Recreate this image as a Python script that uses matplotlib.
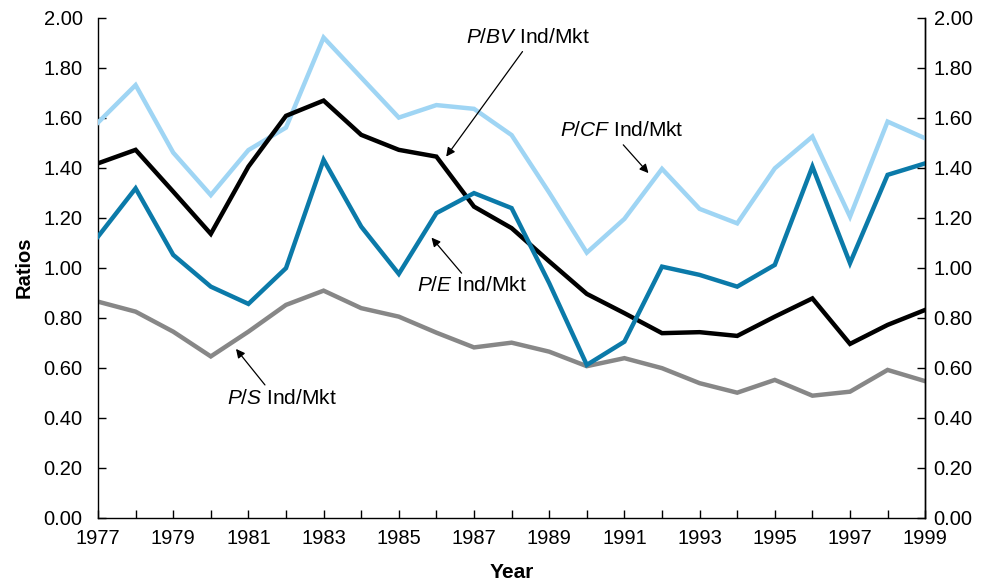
import matplotlib
matplotlib.use("Agg")
import matplotlib.pyplot as plt
from matplotlib.ticker import FormatStrFormatter

plt.rcParams["font.family"] = ["Liberation Sans", "DejaVu Sans"]
plt.rcParams["mathtext.fontset"] = "custom"
plt.rcParams["mathtext.rm"] = "Liberation Sans"
plt.rcParams["mathtext.it"] = "Liberation Sans:italic"

years = list(range(1977, 2000))

# Industry-to-market valuation ratios
pcf = [1.58, 1.73, 1.46, 1.29, 1.47, 1.56, 1.92, 1.76, 1.60, 1.65, 1.635, 1.53,
       1.30, 1.06, 1.195, 1.395, 1.235, 1.177, 1.397, 1.524, 1.204, 1.584, 1.517]
pbv = [1.417, 1.471, 1.304, 1.135, 1.404, 1.607, 1.668, 1.531, 1.471, 1.444, 1.244,
       1.158, 1.025, 0.895, 0.818, 0.738, 0.742, 0.727, 0.804, 0.877, 0.695, 0.771, 0.831]
pe = [1.124, 1.317, 1.051, 0.924, 0.855, 0.998, 1.431, 1.164, 0.975, 1.218, 1.298,
      1.238, 0.938, 0.611, 0.704, 1.004, 0.971, 0.924, 1.011, 1.404, 1.018, 1.371, 1.417]
ps = [0.864, 0.824, 0.744, 0.645, 0.744, 0.851, 0.908, 0.838, 0.804, 0.740, 0.681,
      0.700, 0.664, 0.606, 0.638, 0.598, 0.538, 0.500, 0.551, 0.488, 0.504, 0.591, 0.546]

c_pcf = "#9fd5f4"
c_pbv = "#000000"
c_pe = "#0b7aa9"
c_ps = "#878787"

fig = plt.figure(figsize=(9.83, 5.85), dpi=100)
ax = fig.add_axes([0.0997, 0.115, 0.8415, 0.855])

lw = 3.2
ax.plot(years, ps, color=c_ps, lw=lw, solid_joinstyle="miter", zorder=2)
ax.plot(years, pcf, color=c_pcf, lw=lw, solid_joinstyle="miter", zorder=3)
ax.plot(years, pbv, color=c_pbv, lw=lw, solid_joinstyle="miter", zorder=4)
ax.plot(years, pe, color=c_pe, lw=lw, solid_joinstyle="miter", zorder=5)

ax.set_xlim(1977, 1999)
ax.set_ylim(0, 2.0)

tick_fs = 14.5
yticks = [i * 0.2 for i in range(11)]
ax.set_yticks(yticks)
ax.yaxis.set_major_formatter(FormatStrFormatter("%.2f"))
ax.set_xticks(years)
ax.set_xticklabels([str(y) if y % 2 == 1 else "" for y in years])

ax.spines["top"].set_visible(False)
for s in ("left", "bottom", "right"):
    ax.spines[s].set_linewidth(1.0)
    ax.spines[s].set_color("black")

ax.tick_params(axis="both", direction="in", length=6, width=1.0, labelsize=tick_fs)
ax.tick_params(axis="y", pad=11)
ax.tick_params(axis="x", pad=8)

ax2 = ax.twinx()
ax2.set_ylim(0, 2.0)
ax2.set_yticks(yticks)
ax2.yaxis.set_major_formatter(FormatStrFormatter("%.2f"))
ax2.spines["top"].set_visible(False)
ax2.spines["left"].set_visible(False)
ax2.spines["bottom"].set_visible(False)
ax2.spines["right"].set_linewidth(1.0)
ax2.tick_params(axis="y", direction="in", length=6, width=1.0, labelsize=tick_fs, pad=6)

ax.set_xlabel("Year", fontsize=15, fontweight="bold", labelpad=11)
ax.set_ylabel("Ratios", fontsize=14.5, fontweight="bold", labelpad=7)

# Series labels with arrows
arrow = dict(arrowstyle="-|>", color="black", lw=0.9, mutation_scale=13,
             shrinkA=0, shrinkB=0)
label_fs = 15

ax.text(1988.42, 1.92, r"$P/BV$ Ind/Mkt", fontsize=label_fs, ha="center", va="center")
ax.annotate("", xy=(1986.26, 1.444), xytext=(1988.29, 1.864), arrowprops=arrow)

ax.text(1990.93, 1.547, r"$P/CF$ Ind/Mkt", fontsize=label_fs, ha="center", va="center")
ax.annotate("", xy=(1991.64, 1.378), xytext=(1990.97, 1.491), arrowprops=arrow)

ax.text(1986.95, 0.93, r"$P/E$ Ind/Mkt", fontsize=label_fs, ha="center", va="center")
ax.annotate("", xy=(1985.87, 1.12), xytext=(1986.67, 0.978), arrowprops=arrow)

ax.text(1981.89, 0.478, r"$P/S$ Ind/Mkt", fontsize=label_fs, ha="center", va="center")
ax.annotate("", xy=(1980.67, 0.675), xytext=(1981.44, 0.531), arrowprops=arrow)

fig.savefig("out.png", dpi=100)
